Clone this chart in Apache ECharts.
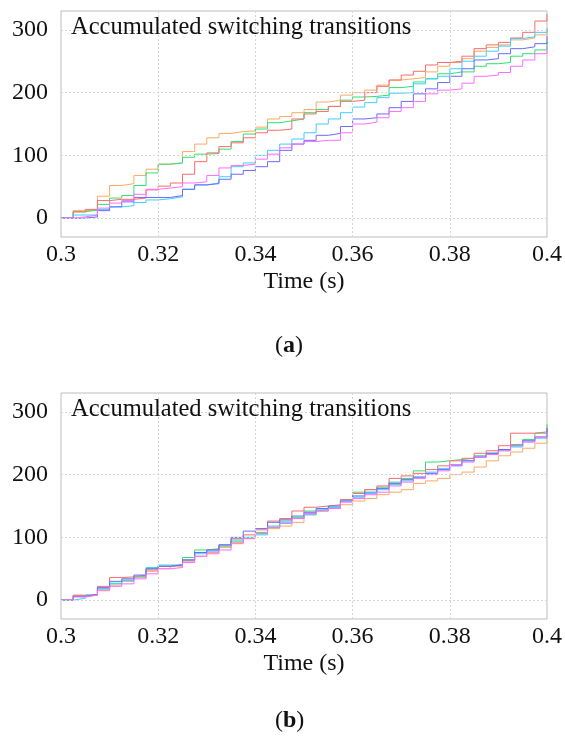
<!DOCTYPE html>
<html>
<head>
<meta charset="utf-8">
<script src="https://cdn.jsdelivr.net/npm/echarts@6/dist/echarts.min.js"></script>
<style>
  html, body { margin: 0; padding: 0; background: #ffffff; }
  #chart { width: 565px; height: 740px; }
</style>
</head>
<body>
<div id="chart"></div>
<script>
// Sample instants (s) shared by every trace
const times = [
  0.3, 0.3025, 0.305, 0.3075, 0.31, 0.3125, 0.315, 0.3175, 0.32, 0.3225,
  0.325, 0.3275, 0.33, 0.3325, 0.335, 0.3375, 0.34, 0.3425, 0.345, 0.3475,
  0.35, 0.3525, 0.355, 0.3575, 0.36, 0.3625, 0.365, 0.3675, 0.37, 0.3725,
  0.375, 0.3775, 0.38, 0.3825, 0.385, 0.3875, 0.39, 0.3925, 0.395, 0.3975, 0.4
];

// Tick labels and grid positions
const yTicks = [0, 100, 200, 300];
const yGrid = [0, 100, 200, 300];
const xGrid = [0.32, 0.34, 0.36, 0.38];

// Trace colours (one per switch)
const traceColors = ['#ffa862', '#2fe070', '#ff6a6a', '#3ccfff', '#6a6aff', '#ff6cff'];

// Panel (a): accumulated switching transitions per switch
const aOrange  = [0,12,13,35,52,55,68,78,86,88,106,118,128,135,138,139,145,158,162,168,173,185,188,196,200,204,212,220,222,224,233,242,248,254,266,272,276,284,287,292,302];
const aGreen   = [0,10,13,22,32,36,52,72,86,88,97,102,103,110,122,134,142,152,155,158,168,173,178,188,193,194,196,208,210,217,222,230,233,233,242,246,248,258,262,268,280];
const aRed     = [0,10,14,28,30,30,32,45,51,56,70,90,104,114,120,128,136,140,142,158,166,170,178,186,188,200,210,220,228,234,244,248,250,258,270,276,280,287,296,314,325];
const aCyan    = [0,5,5,14,18,20,25,29,31,34,46,53,56,66,82,88,100,108,118,126,136,150,158,168,177,184,192,199,200,214,222,226,238,250,258,266,274,286,289,296,302];
const aBlue    = [0,0,2,12,18,26,33,33,33,36,46,53,55,62,70,76,82,90,108,118,124,132,135,146,158,160,166,176,186,198,206,216,226,238,252,254,262,270,273,278,290];
const aMagenta = [0,2,5,16,24,28,38,46,48,50,56,58,68,80,84,86,94,102,112,118,122,124,124,136,150,153,160,170,176,186,198,204,206,215,226,228,232,242,252,262,273];

// Panel (b): accumulated switching transitions per switch
const bOrange  = [0,6,8,15,24,30,36,46,50,54,62,70,76,84,92,98,106,114,118,124,136,142,146,152,158,162,168,172,176,186,190,194,200,204,212,222,230,236,242,250,262];
const bGreen   = [0,7,9,18,27,32,38,50,54,57,68,80,82,86,94,100,108,118,126,132,142,144,148,160,172,176,180,188,194,206,220,222,224,226,230,234,240,248,256,266,280];
const bRed     = [0,8,9,22,36,37,40,48,54,56,64,76,80,88,98,104,112,126,130,142,148,150,152,160,170,176,182,194,198,202,208,214,222,226,234,238,246,266,266,268,275];
const bCyan    = [0,3,8,18,26,31,38,52,56,56,64,74,78,88,96,100,104,116,124,130,136,144,148,158,164,170,176,184,190,196,204,210,216,222,228,234,238,244,252,258,270];
const bBlue    = [0,6,9,20,30,34,40,50,54,56,64,76,80,88,100,110,114,124,128,134,140,146,150,158,166,172,178,186,192,196,202,208,214,222,228,234,240,246,254,260,274];
const bMagenta = [0,5,8,16,22,26,34,42,50,52,60,70,74,80,90,98,106,116,122,130,138,142,146,156,162,168,172,182,188,194,200,206,216,220,228,232,238,246,252,260,268];

const panelA = [aOrange, aGreen, aRed, aCyan, aBlue, aMagenta];
const panelB = [bOrange, bGreen, bRed, bCyan, bBlue, bMagenta];

const FONT = 'Liberation Serif';
const gridLine = { color: '#d6d6d6', width: 1, type: [2, 2] };

function pairs(vals) {
  return times.map((t, i) => [t, vals[i]]);
}

function makeXAxis(gi) {
  return {
    gridIndex: gi,
    type: 'value',
    min: 0.3, max: 0.4, interval: 0.02,
    name: 'Time (s)',
    nameLocation: 'middle',
    nameGap: 33,
    nameTextStyle: { fontFamily: FONT, fontSize: 24, color: '#111' },
    axisLine: { show: false },
    axisTick: { show: false },
    splitLine: { show: false },
    axisLabel: {
      fontFamily: FONT, fontSize: 24, color: '#111', margin: 6,
      showMinLabel: true, showMaxLabel: true,
      formatter: v => String(+v.toFixed(2))
    }
  };
}

function makeYAxis(gi) {
  return {
    gridIndex: gi,
    type: 'value',
    min: -30, max: 330,
    axisLine: { show: false },
    axisTick: { show: false },
    splitLine: { show: false },
    axisLabel: {
      customValues: yTicks,
      fontFamily: FONT, fontSize: 24, color: '#111', margin: 13
    }
  };
}

function gridSeries(gi) {
  return {
    type: 'line',
    xAxisIndex: gi, yAxisIndex: gi,
    data: [],
    silent: true,
    z: 1,
    markLine: {
      silent: true,
      symbol: 'none',
      label: { show: false },
      lineStyle: gridLine,
      animation: false,
      data: yGrid.map(v => ({ yAxis: v })).concat(xGrid.map(v => ({ xAxis: v })))
    }
  };
}

function traceSeries(panel, gi) {
  return panel.map((vals, k) => ({
    type: 'line',
    xAxisIndex: gi, yAxisIndex: gi,
    step: 'end',
    symbol: 'none',
    z: 3,
    lineStyle: { color: traceColors[k], width: 1 },
    data: pairs(vals)
  }));
}

function caption(letter, top) {
  return {
    type: 'text', left: 275, top: top, z: 10,
    style: {
      text: '({b|' + letter + '})', font: '24px "Liberation Serif"', fill: '#111',
      rich: { b: { fontFamily: FONT, fontSize: 24, fontWeight: 'bold', fill: '#111' } }
    }
  };
}

const chart = echarts.init(document.getElementById('chart'), null, { renderer: 'canvas' });

chart.setOption({
  animation: false,
  backgroundColor: '#ffffff',
  grid: [
    { left: 61, top: 11, width: 490, height: 226, show: true, borderColor: '#bdbdbd', borderWidth: 1, backgroundColor: 'transparent' },
    { left: 61, top: 393, width: 490, height: 226, show: true, borderColor: '#bdbdbd', borderWidth: 1, backgroundColor: 'transparent' }
  ],
  xAxis: [makeXAxis(0), makeXAxis(1)],
  yAxis: [makeYAxis(0), makeYAxis(1)],
  series: [gridSeries(0), gridSeries(1)]
    .concat(traceSeries(panelA, 0))
    .concat(traceSeries(panelB, 1)),
  graphic: [
    { type: 'text', left: 71, top: 15, z: 10,
      style: { text: 'Accumulated switching transitions', font: '24.5px "Liberation Serif"', fill: '#111' } },
    { type: 'text', left: 71, top: 397, z: 10,
      style: { text: 'Accumulated switching transitions', font: '24.5px "Liberation Serif"', fill: '#111' } },
    caption('a', 334),
    caption('b', 709)
  ]
});
</script>
</body>
</html>
